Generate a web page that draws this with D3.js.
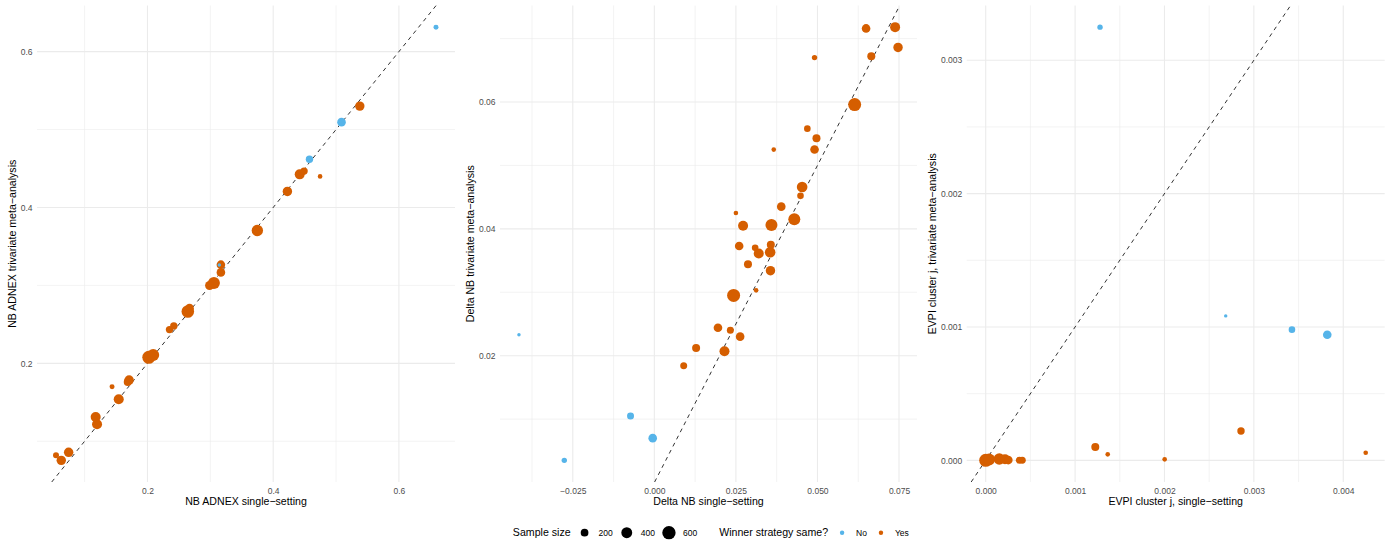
<!DOCTYPE html>
<html>
<head>
<meta charset="utf-8">
<script src="https://d3js.org/d3.v7.min.js"></script>
<style>
body{ margin:0; background:#fff; }
text{ font-family: "Liberation Sans", Arial, sans-serif; }
.tick text{ font-size: 8.5px; fill: #4d4d4d; }
text.axisTitle{ font-size: 10.6px; fill: #000; }
text.legendTitle{ font-size: 10.6px; fill: #000; }
text.legendLabel{ font-size: 8.5px; fill: #000; }
.grid line.major{ stroke: #ebebeb; stroke-width: 1.1; }
.grid line.minor{ stroke: #ebebeb; stroke-width: 0.6; }
</style>
</head>
<body>
<script>
const width = 1391;
const height = 546;

// panel 1 : NB ADNEX
const p1X = [0.659,0.5378,0.5087,0.4577,0.4491,0.4422,0.4746,0.4226,0.3748,0.3143,0.3168,0.3168,0.3057,0.2988,0.2642,0.2669,0.2419,0.2351,0.2021,0.2091,0.1708,0.1686,0.1437,0.1543,0.1176,0.1198,0.0746,0.0629,0.0545];
const p1Y = [0.6314,0.5301,0.5095,0.4618,0.4467,0.4425,0.4399,0.4206,0.3704,0.3262,0.3266,0.3167,0.3030,0.2999,0.2665,0.2708,0.2480,0.2433,0.2077,0.2107,0.1785,0.1759,0.1699,0.1540,0.1312,0.1218,0.0858,0.0755,0.0819];
const p1N = [84,300,250,185,185,337,72,300,435,40,250,250,486,273,535,250,185,185,570,486,300,216,84,337,337,337,300,300,121];
const p1Same = ["No","Yes","No","No","Yes","Yes","Yes","Yes","Yes","No","Yes","Yes","Yes","Yes","Yes","Yes","Yes","Yes","Yes","Yes","Yes","Yes","Yes","Yes","Yes","Yes","Yes","Yes","Yes"];
const p1XTicks = [0.2,0.4,0.6];
const p1YTicks = [0.2,0.4,0.6];

// panel 2 : Delta NB
const p2X = [0.0649,0.0738,0.0747,0.0665,0.0491,0.0614,0.0469,0.0497,0.0491,0.0366,0.0453,0.0448,0.0389,0.0429,0.0359,0.0272,0.0250,0.0260,0.0309,0.0357,0.0320,0.0355,0.0287,0.0356,0.0312,0.0243,0.0195,0.0233,0.0263,0.0128,0.0215,0.0090,-0.0415,-0.0073,-0.0005,-0.0276];
const p2Y = [0.0716,0.0718,0.0686,0.0672,0.0670,0.0596,0.0558,0.0543,0.0525,0.0525,0.0466,0.0452,0.0435,0.0415,0.0406,0.0405,0.0425,0.0373,0.0370,0.0375,0.0361,0.0363,0.0344,0.0334,0.0303,0.0295,0.0244,0.0240,0.0230,0.0212,0.0207,0.0184,0.0233,0.0105,0.0070,0.0035];
const p2N = [250,337,300,216,98,570,147,216,250,72,380,147,250,486,486,337,72,250,147,216,337,380,216,300,72,570,250,165,250,216,337,165,40,165,250,98];
const p2Same = ["Yes","Yes","Yes","Yes","Yes","Yes","Yes","Yes","Yes","Yes","Yes","Yes","Yes","Yes","Yes","Yes","Yes","Yes","Yes","Yes","Yes","Yes","Yes","Yes","Yes","Yes","Yes","Yes","Yes","Yes","Yes","Yes","No","No","No","No"];
const p2XTicks = [-0.025,0,0.025,0.05,0.075];
const p2YTicks = [0.02,0.04,0.06];

// panel 3 : EVPI
const p3X = [0.001279,0.002685,0.003426,0.003821,0.002856,0.001226,0.001365,0.002002,0.004251,0.000000,0.000037,0.000152,0.000216,0.000253,0.000376,0.000409];
const p3Y = [0.003248,0.001083,0.000980,0.000942,0.000220,0.000100,0.000045,0.0000075,0.000057,0.000000,0.000006,0.000010,0.0000075,0.000002,0.000000,0.000000];
const p3N = [98,40,147,250,185,216,72,72,72,570,486,435,337,250,165,165];
const p3Same = ["No","No","No","No","Yes","Yes","Yes","Yes","Yes","Yes","Yes","Yes","Yes","Yes","Yes","Yes"];
const p3XTicks = [0,0.001,0.002,0.003,0.004];
const p3YTicks = [0,0.001,0.002,0.003];

// legend
const sizeBreaks = [200,400,600];
const sameLevels = ["No","Yes"];
const sameColours = ["#56B4E9","#D55E00"];

const panels = [
  {x:p1X, y:p1Y, n:p1N, same:p1Same, xt:p1XTicks, yt:p1YTicks, xf:d3.format(".1f"), yf:d3.format(".1f"),
   xTitle:"NB ADNEX single\u2212setting", yTitle:"NB ADNEX trivariate meta\u2212analysis", left:37, right:455},
  {x:p2X, y:p2Y, n:p2N, same:p2Same, xt:p2XTicks, yt:p2YTicks, xf:d3.format(".3f"), yf:d3.format(".2f"),
   xTitle:"Delta NB single\u2212setting", yTitle:"Delta NB trivariate meta\u2212analysis", left:500, right:917},
  {x:p3X, y:p3Y, n:p3N, same:p3Same, xt:p3XTicks, yt:p3YTicks, xf:d3.format(".3f"), yf:d3.format(".3f"),
   xTitle:"EVPI cluster j, single\u2212setting", yTitle:"EVPI cluster j, trivariate meta\u2212analysis", left:966.7, right:1384.7}
];
const plotTop = 5.5, plotBottom = 482;

const size = d3.scaleSqrt().domain([0, 680]).range([0, 7.1]);
const colour = d3.scaleOrdinal().domain(sameLevels).range(sameColours);

const svg = d3.select("body").append("svg")
  .attr("width", width)
  .attr("height", height);

// ggplot style expansion
function expanded(vals){
  const e = d3.extent(vals);
  const pad = (e[1]-e[0])*0.05;
  return [e[0]-pad, e[1]+pad];
}
function minorTicks(major, dom){
  const step = major[1]-major[0];
  const out = [];
  for(let i=-1;i<major.length;i++){
    const m = major[0] + step*(i+0.5);
    if(m>=dom[0] && m<=dom[1]) out.push(m);
  }
  return out;
}

panels.forEach(p => {
  const xDom = expanded(p.x), yDom = expanded(p.y);
  const x = d3.scaleLinear().domain(xDom).range([p.left, p.right]);
  const y = d3.scaleLinear().domain(yDom).range([plotBottom, plotTop]);
  const g = svg.append("g");

  const grid = g.append("g").attr("class","grid");
  grid.selectAll("line.vminor").data(minorTicks(p.xt, xDom)).enter().append("line")
    .attr("class","minor").attr("x1",d=>x(d)).attr("x2",d=>x(d)).attr("y1",plotTop).attr("y2",plotBottom);
  grid.selectAll("line.hminor").data(minorTicks(p.yt, yDom)).enter().append("line")
    .attr("class","minor").attr("y1",d=>y(d)).attr("y2",d=>y(d)).attr("x1",p.left).attr("x2",p.right);
  grid.selectAll("line.vmajor").data(p.xt).enter().append("line")
    .attr("class","major").attr("x1",d=>x(d)).attr("x2",d=>x(d)).attr("y1",plotTop).attr("y2",plotBottom);
  grid.selectAll("line.hmajor").data(p.yt).enter().append("line")
    .attr("class","major").attr("y1",d=>y(d)).attr("y2",d=>y(d)).attr("x1",p.left).attr("x2",p.right);

  const xAxis = g.append("g")
    .attr("transform", `translate(0,${plotBottom})`)
    .call(d3.axisBottom(x).tickValues(p.xt).tickSize(0).tickPadding(5.5).tickFormat(p.xf));
  xAxis.select(".domain").remove();

  const yAxis = g.append("g")
    .attr("transform", `translate(${p.left},0)`)
    .call(d3.axisLeft(y).tickValues(p.yt).tickSize(0).tickPadding(4.5).tickFormat(p.yf));
  yAxis.select(".domain").remove();
  g.selectAll(".tick text").attr("font-family", null).attr("font-size", null);

  // identity line, clipped to the panel
  const lo = Math.max(xDom[0], yDom[0]), hi = Math.min(xDom[1], yDom[1]);
  g.append("line")
    .attr("x1", x(lo)).attr("y1", y(lo)).attr("x2", x(hi)).attr("y2", y(hi))
    .attr("stroke", "#333").attr("stroke-width", 1).attr("stroke-dasharray", "4,4");

  const pts = p.x.map((v,i) => ({x:v, y:p.y[i], n:p.n[i], same:p.same[i]}))
    .sort((a,b) => b.n - a.n);
  g.selectAll("circle.pt").data(pts).enter().append("circle")
    .attr("class","pt")
    .attr("cx", d => x(d.x))
    .attr("cy", d => y(d.y))
    .attr("r", d => size(d.n))
    .attr("fill", d => colour(d.same));

  g.append("text").attr("class","axisTitle")
    .attr("x", (p.left+p.right)/2).attr("y", 505)
    .attr("text-anchor","middle").text(p.xTitle);

  const bb = yAxis.node().getBBox();
  const tx = p.left + bb.x - 5;
  g.append("text").attr("class","axisTitle")
    .attr("transform", `translate(${tx},${(plotTop+plotBottom)/2}) rotate(-90)`)
    .attr("text-anchor","middle").text(p.yTitle);
});

// legend, laid out left to right then centred
const legY = 532.7, keyW = 17, gap = 5.5;
const leg = svg.append("g");
let cx = 0;
function addText(cls, t){
  const el = leg.append("text").attr("class", cls).attr("x", cx).attr("y", legY).attr("dy","0.35em").text(t);
  cx += el.node().getComputedTextLength();
  return el;
}
addText("legendTitle", "Sample size");
sizeBreaks.forEach(b => {
  cx += gap;
  leg.append("circle").attr("cx", cx + keyW/2).attr("cy", legY).attr("r", size(b)).attr("fill", "#000");
  cx += keyW + gap;
  addText("legendLabel", b);
});
cx += 22;
addText("legendTitle", "Winner strategy same?");
sameLevels.forEach(s => {
  cx += gap;
  leg.append("circle").attr("cx", cx + keyW/2).attr("cy", legY).attr("r", 2.2).attr("fill", colour(s));
  cx += keyW + gap;
  addText("legendLabel", s);
});
const centre = (panels[0].left + panels[2].right)/2;
leg.attr("transform", `translate(${centre - cx/2},0)`);
</script>
</body>
</html>
